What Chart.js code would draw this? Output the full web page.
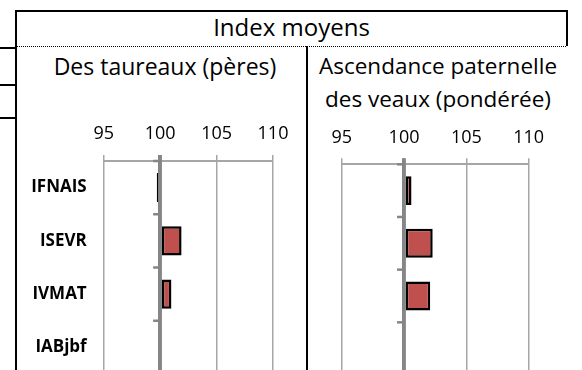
<!DOCTYPE html>
<html>
<head>
<meta charset="utf-8">
<script src="https://cdn.jsdelivr.net/npm/chart.js@4"></script>
<style>
  body { margin: 0; width: 582px; height: 370px; overflow: hidden; background: #fff; position: relative; font-family: 'Open Sans', sans-serif; color: #000; }
  .ln { position: absolute; background: #000; }
  .dots { position: absolute; height: 1px; background: repeating-linear-gradient(to right, #000 0 1px, transparent 1px 2px); }
  .txt { position: absolute; text-align: center; white-space: nowrap; line-height: 33px; }
  canvas { position: absolute; }
</style>
</head>
<body>
<!-- table borders -->
<div class="ln" style="left:15px;top:10px;width:2px;height:360px"></div>
<div class="ln" style="left:15px;top:10px;width:553px;height:2px"></div>
<div class="ln" style="left:566px;top:10px;width:2px;height:36px"></div>
<div class="dots" style="left:17px;top:46px;width:549px"></div>
<div class="ln" style="left:306px;top:46px;width:2px;height:324px"></div>
<div class="ln" style="left:0;top:47px;width:15px;height:2px"></div>
<div class="ln" style="left:0;top:84px;width:15px;height:2px"></div>
<div class="ln" style="left:0;top:117px;width:17px;height:2px"></div>

<div class="txt" style="left:17px;width:549px;top:10px;font-size:24px">Index moyens</div>
<div class="txt" style="left:20px;width:290px;top:50px;font-size:23px">Des taureaux (pères)</div>
<div class="txt" style="left:308px;width:260px;top:49px;font-size:22.5px">Ascendance paternelle<br>des veaux (pondérée)</div>

<canvas id="left" width="289" height="256" style="left:17px;top:118px"></canvas>
<canvas id="right" width="274" height="257" style="left:308px;top:118px"></canvas>

<script>
const categories = ['IFNAIS', 'ISEVR', 'IVMAT', 'IABjbf'];
const taureaux = [99.7, 101.9, 101.0, null];
const ascendance = [100.6, 102.3, 102.1, null];
const axisMin = 95;
const axisMax = 110;
const axisStep = 5;
const baseIndex = 100;

Chart.defaults.font.family = "'Open Sans', sans-serif";
Chart.defaults.color = '#000';

// vertical line at 100 drawn over the bars, with small ticks between categories
const baseLine = {
  id: 'baseLine',
  afterDatasetsDraw(chart) {
    const { ctx, chartArea, scales: { x, y } } = chart;
    const px = x.getPixelForValue(baseIndex);
    ctx.save();
    ctx.strokeStyle = '#868686';
    ctx.lineWidth = 3.5;
    ctx.beginPath();
    ctx.moveTo(px, chartArea.top - 6);
    ctx.lineTo(px, chartArea.bottom);
    ctx.stroke();
    ctx.lineWidth = 2.5;
    for (let i = 0; i <= categories.length; i++) {
      const py = y.getPixelForValue(i - 0.5);
      ctx.beginPath();
      ctx.moveTo(px - 7, py);
      ctx.lineTo(px, py);
      ctx.stroke();
    }
    ctx.restore();
  }
};

function makeChart(id, values, cfg) {
  return new Chart(document.getElementById(id), {
    type: 'bar',
    data: {
      labels: categories,
      datasets: [{
        data: values,
        base: baseIndex,
        backgroundColor: '#C0504D',
        borderColor: '#000',
        borderWidth: 2.5,
        borderSkipped: false,
        barPercentage: 0.55,
        categoryPercentage: 1
      }]
    },
    options: {
      indexAxis: 'y',
      responsive: false,
      animation: false,
      devicePixelRatio: 1,
      layout: { padding: cfg.padding },
      plugins: { legend: { display: false }, tooltip: { enabled: false } },
      scales: {
        x: {
          position: 'top',
          min: axisMin,
          max: axisMax,
          ticks: { stepSize: axisStep, padding: 10, font: { size: 18 }, maxRotation: 0 },
          grid: {
            color: c => (c.tick && c.tick.value === baseIndex ? '#868686' : '#a6a6a6'),
            lineWidth: c => (c.tick && c.tick.value === baseIndex ? 3.5 : 1.5),
            tickLength: 6
          },
          border: { color: '#a6a6a6', width: 2 },
          afterFit: s => { s.height = cfg.xHeight; }
        },
        y: {
          display: cfg.showLabels,
          ticks: { padding: 17, font: { size: 17, weight: 'bold' } },
          grid: { display: false, drawTicks: false },
          border: { display: false },
          afterFit: s => {
            s.paddingTop = 0;
            s.paddingBottom = 0;
            if (cfg.showLabels) s.width = 86.7;
          }
        }
      }
    },
    plugins: [baseLine]
  });
}

makeChart('left', taureaux, { padding: { left: 0, right: 33, top: 0, bottom: 0 }, xHeight: 43, showLabels: true });
makeChart('right', ascendance, { padding: { left: 33.7, right: 53.3, top: 0, bottom: 0 }, xHeight: 46.3, showLabels: false });
</script>
</body>
</html>
